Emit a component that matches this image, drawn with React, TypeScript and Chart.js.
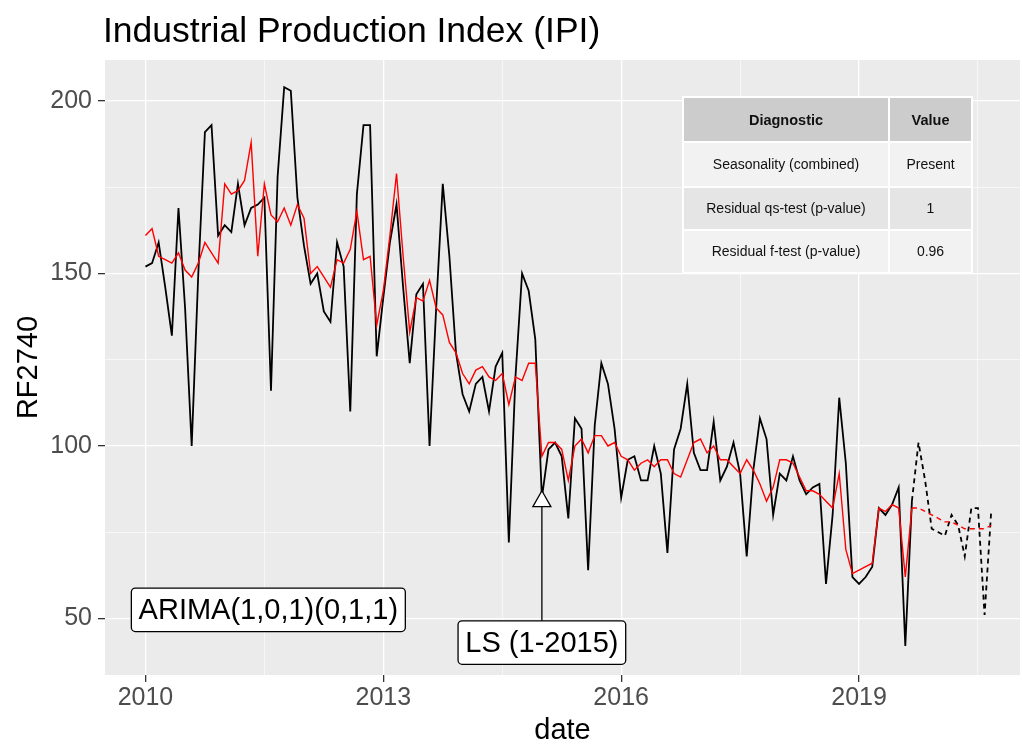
import { useEffect, useRef } from "react";
import { Chart, registerables } from "chart.js";

Chart.register(...registerables);

const FONT = '"Liberation Sans", Arial, sans-serif';

const TITLE = "Industrial Production Index (IPI)";
const X_TITLE = "date";
const Y_TITLE = "RF2740";

const START_YEAR = 2010;

// Monthly observed series, Jan 2010 .. Sep 2019
const observed = [
  152, 153, 159, 146, 132, 169, 140, 100, 150, 191, 193, 161,
  164, 162, 176, 164, 169, 170, 172, 116, 178, 204, 203, 172,
  158, 147, 150, 139, 136, 159, 152, 110, 173, 193, 193, 126,
  143, 159, 170, 146, 124, 144, 147, 100, 140, 176, 155, 127,
  115, 110, 118, 120, 110, 123, 127, 72, 120, 150, 145, 131,
  85, 99, 101, 97, 79, 108, 105, 64, 106, 124, 118, 105,
  85, 96, 97, 90, 90, 100, 92, 69, 99, 105, 118, 98,
  93, 93, 107, 90, 94, 101, 92, 68, 93, 108, 102, 80,
  92, 90, 97, 90, 86, 88, 89, 60, 80, 114, 95, 62,
  60, 62, 65, 82, 80, 83, 88, 42, 84,
];

// Seasonally adjusted series, Jan 2010 .. Sep 2019
const adjusted = [
  161, 163, 155, 154, 153, 156, 151, 149, 153, 159, 156, 153,
  176, 173, 174, 177, 188, 155, 176, 167, 165, 169, 164, 170,
  166, 150, 152, 149, 146, 154, 153, 157, 168, 154, 155, 135,
  145, 161, 179, 155, 133, 143, 142, 148, 140, 138, 130, 127,
  121, 118, 122, 123, 120, 119, 121, 112, 120, 119, 124, 124,
  97, 101, 101, 99, 90, 100, 102, 98, 103, 103, 100, 101,
  97, 96, 93, 95, 96, 94, 96, 96, 92, 91, 96, 101,
  102, 98, 100, 96, 96, 94, 92, 96, 93, 89, 84, 88,
  96, 96, 95, 91, 87, 87, 86, 84, 82, 92, 70, 63,
  64, 65, 66, 82, 81, 83, 82, 62, 82,
];

// Forecasts, starting at the last observed month (Sep 2019) .. Sep 2020
const forecastObserved = [84, 101, 90, 76, 75, 74, 80, 77, 68, 82, 82, 51, 81];
const forecastAdjusted = [82, 82, 81, 80, 79, 78, 78, 77, 76, 76, 76, 76, 77];

const xMajorTicks = [2010, 2013, 2016, 2019];
const xMinorTicks = [2011.5, 2014.5, 2017.5, 2020.5];
const yMajorTicks = [50, 100, 150, 200];
const yMinorTicks = [75, 125, 175];

const tableHeader = ["Diagnostic", "Value"];
const tableRows = [
  ["Seasonality (combined)", "Present"],
  ["Residual qs-test (p-value)", "1"],
  ["Residual f-test (p-value)", "0.96"],
];

const modelLabel = "ARIMA(1,0,1)(0,1,1)";
const modelLabelPos = { x: 2011.55, y: 52.5 };
const outlierLabel = "LS (1-2015)";
const outlierIndex = 60;
const outlierLabelY = 43;

const toYear = (i: number) => START_YEAR + i / 12;

function roundRect(ctx: CanvasRenderingContext2D, x: number, y: number, w: number, h: number, r: number) {
  ctx.beginPath();
  ctx.moveTo(x + r, y);
  ctx.lineTo(x + w - r, y);
  ctx.arcTo(x + w, y, x + w, y + r, r);
  ctx.lineTo(x + w, y + h - r);
  ctx.arcTo(x + w, y + h, x + w - r, y + h, r);
  ctx.lineTo(x + r, y + h);
  ctx.arcTo(x, y + h, x, y + h - r, r);
  ctx.lineTo(x, y + r);
  ctx.arcTo(x, y, x + r, y, r);
  ctx.closePath();
}

function drawLabel(ctx: CanvasRenderingContext2D, text: string, cx: number, cy: number, size: number) {
  ctx.font = `${size}px ${FONT}`;
  const tw = ctx.measureText(text).width;
  const pad = size * 0.25;
  const w = tw + 2 * pad;
  const h = size + 2 * pad;
  roundRect(ctx, cx - w / 2, cy - h / 2, w, h, 4);
  ctx.fillStyle = "#FFFFFF";
  ctx.fill();
  ctx.lineWidth = 1.3;
  ctx.strokeStyle = "#000000";
  ctx.stroke();
  ctx.fillStyle = "#000000";
  ctx.textAlign = "center";
  ctx.textBaseline = "middle";
  ctx.fillText(text, cx, cy + 1);
}

const decorPlugin = {
  id: "decor",
  beforeDraw(chart: any) {
    const { ctx, chartArea } = chart;
    ctx.save();
    ctx.fillStyle = "#FFFFFF";
    ctx.fillRect(0, 0, chart.width, chart.height);
    ctx.fillStyle = "#EBEBEB";
    ctx.fillRect(chartArea.left, chartArea.top, chartArea.right - chartArea.left, chartArea.bottom - chartArea.top);
    ctx.restore();
  },
  afterDraw(chart: any) {
    const { ctx, chartArea, scales } = chart;
    const xS = scales.x;
    const yS = scales.y;
    ctx.save();

    // Title
    ctx.fillStyle = "#000000";
    ctx.font = `35.5px ${FONT}`;
    ctx.textAlign = "left";
    ctx.textBaseline = "alphabetic";
    ctx.fillText(TITLE, chartArea.left - 2, 42);

    // Axis titles
    ctx.font = `29px ${FONT}`;
    ctx.textAlign = "center";
    ctx.textBaseline = "middle";
    ctx.fillText(X_TITLE, (chartArea.left + chartArea.right) / 2, 731);
    ctx.save();
    ctx.translate(29, (chartArea.top + chartArea.bottom) / 2);
    ctx.rotate(-Math.PI / 2);
    ctx.fillText(Y_TITLE, 0, 0);
    ctx.restore();

    // Outlier annotation: segment, triangle, label
    const ox = xS.getPixelForValue(toYear(outlierIndex));
    const oy = yS.getPixelForValue(observed[outlierIndex]);
    const ly = yS.getPixelForValue(outlierLabelY);
    ctx.beginPath();
    ctx.moveTo(ox, ly);
    ctx.lineTo(ox, oy);
    ctx.lineWidth = 1.3;
    ctx.strokeStyle = "#000000";
    ctx.stroke();
    ctx.beginPath();
    ctx.moveTo(ox, oy - 7);
    ctx.lineTo(ox + 9, oy + 9);
    ctx.lineTo(ox - 9, oy + 9);
    ctx.closePath();
    ctx.fillStyle = "#FFFFFF";
    ctx.fill();
    ctx.stroke();
    drawLabel(ctx, outlierLabel, ox, ly, 29);

    // Model label
    drawLabel(ctx, modelLabel, xS.getPixelForValue(modelLabelPos.x), yS.getPixelForValue(modelLabelPos.y), 29);

    // Diagnostics table
    const colX = [683, 889, 972];
    const rowY = [97, 142, 187, 230, 273];
    ctx.fillStyle = "#FFFFFF";
    ctx.fillRect(colX[0] - 1, rowY[0] - 1, colX[2] - colX[0] + 2, rowY[4] - rowY[0] + 2);
    const fills = ["#CCCCCC", "#F2F2F2", "#E5E5E5", "#F2F2F2"];
    for (let r = 0; r < 4; r++) {
      for (let c = 0; c < 2; c++) {
        ctx.fillStyle = fills[r];
        ctx.fillRect(colX[c] + 1, rowY[r] + 1, colX[c + 1] - colX[c] - 2, rowY[r + 1] - rowY[r] - 2);
        const text = r === 0 ? tableHeader[c] : tableRows[r - 1][c];
        ctx.font = r === 0 ? `bold 14.5px ${FONT}` : `14px ${FONT}`;
        ctx.fillStyle = "#111111";
        ctx.textAlign = "center";
        ctx.textBaseline = "middle";
        ctx.fillText(text, (colX[c] + colX[c + 1]) / 2, (rowY[r] + rowY[r + 1]) / 2 + 1);
      }
    }
    ctx.restore();
  },
};

export default function App() {
  const ref = useRef<HTMLCanvasElement>(null);

  useEffect(() => {
    document.body.style.margin = "0";
    const canvas = ref.current;
    if (!canvas) return;

    const isXMajor = (v: number) => xMajorTicks.includes(v);
    const isYMajor = (v: number) => yMajorTicks.includes(v);

    const chart = new Chart(canvas, {
      type: "line",
      data: {
        datasets: [
          {
            label: "adjusted",
            data: adjusted.map((v, i) => ({ x: toYear(i), y: v })),
            borderColor: "#FF0000",
            borderWidth: 1.4,
            pointRadius: 0,
            tension: 0,
            order: 0,
          },
          {
            label: "adjusted forecast",
            data: forecastAdjusted.map((v, j) => ({ x: toYear(adjusted.length - 1 + j), y: v })),
            borderColor: "#FF0000",
            borderWidth: 1.4,
            borderDash: [5, 4],
            pointRadius: 0,
            tension: 0,
            order: 0,
          },
          {
            label: "observed",
            data: observed.map((v, i) => ({ x: toYear(i), y: v })),
            borderColor: "#000000",
            borderWidth: 1.8,
            pointRadius: 0,
            tension: 0,
            order: 1,
          },
          {
            label: "observed forecast",
            data: forecastObserved.map((v, j) => ({ x: toYear(observed.length - 1 + j), y: v })),
            borderColor: "#000000",
            borderWidth: 1.8,
            borderDash: [5, 4],
            pointRadius: 0,
            tension: 0,
            order: 1,
          },
        ],
      },
      options: {
        responsive: false,
        animation: false,
        devicePixelRatio: 1,
        layout: { padding: { top: 60, right: 2, left: 0, bottom: 0 } },
        plugins: {
          legend: { display: false },
          tooltip: { enabled: false },
          title: { display: false },
        },
        scales: {
          x: {
            type: "linear",
            min: 2009.49,
            max: 2021.03,
            afterBuildTicks: (scale: any) => {
              scale.ticks = [...xMajorTicks, ...xMinorTicks].sort((a, b) => a - b).map((v) => ({ value: v }));
            },
            afterFit: (scale: any) => {
              scale.height = 72;
            },
            border: { display: false },
            grid: {
              color: "#FFFFFF",
              lineWidth: (ctx: any) => (isXMajor(ctx.tick?.value) ? 1.3 : 0.6),
              tickColor: (ctx: any) => (isXMajor(ctx.tick?.value) ? "#333333" : "rgba(0,0,0,0)"),
              tickWidth: 1.3,
              tickLength: 7,
              drawTicks: true,
            },
            ticks: {
              autoSkip: false,
              maxRotation: 0,
              padding: 1,
              color: "#4D4D4D",
              font: { family: FONT, size: 25 },
              callback: (v: any) => (isXMajor(Number(v)) ? String(v) : ""),
            },
          },
          y: {
            type: "linear",
            min: 33.6,
            max: 211.9,
            afterBuildTicks: (scale: any) => {
              scale.ticks = [...yMajorTicks, ...yMinorTicks].sort((a, b) => a - b).map((v) => ({ value: v }));
            },
            afterFit: (scale: any) => {
              scale.width = 105;
            },
            border: { display: false },
            grid: {
              color: "#FFFFFF",
              lineWidth: (ctx: any) => (isYMajor(ctx.tick?.value) ? 1.3 : 0.6),
              tickColor: (ctx: any) => (isYMajor(ctx.tick?.value) ? "#333333" : "rgba(0,0,0,0)"),
              tickWidth: 1.3,
              tickLength: 7,
              drawTicks: true,
            },
            ticks: {
              autoSkip: false,
              padding: 6,
              color: "#4D4D4D",
              font: { family: FONT, size: 25 },
              callback: (v: any) => (isYMajor(Number(v)) ? String(v) : ""),
            },
          },
        },
      },
      plugins: [decorPlugin],
    } as any);

    return () => chart.destroy();
  }, []);

  return (
    <div style={{ width: 1022, height: 747 }}>
      <canvas ref={ref} width={1022} height={747} style={{ display: "block", width: "1022px", height: "747px" }} />
    </div>
  );
}
